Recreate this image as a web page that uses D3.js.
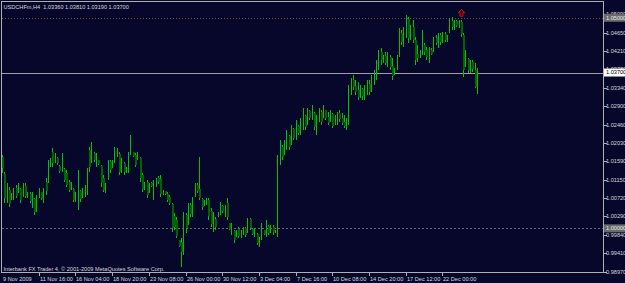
<!DOCTYPE html>
<html><head><meta charset="utf-8">
<script src="https://cdn.jsdelivr.net/npm/d3@7"></script>
<style>html,body{margin:0;padding:0;background:#07072b;overflow:hidden}</style>
</head><body>
<script>
const symbolTitle = "USDCHFm,H4";
const headerOHLC = ["1.03360", "1.03810", "1.03190", "1.03700"];

const opens = [
1.0169,1.0129,1.0067,1.0091,1.0070,1.0074,1.0096,1.0086,1.0093,1.0077,
1.0101,1.0074,1.0082,1.0058,1.0070,1.0044,1.0074,1.0086,1.0067,1.0110,
1.0110,1.0150,1.0181,1.0158,1.0167,1.0148,1.0139,1.0141,1.0131,1.0110,
1.0093,1.0093,1.0067,1.0067,1.0089,1.0074,1.0084,1.0096,1.0186,1.0160,
1.0179,1.0150,1.0162,1.0148,1.0120,1.0086,1.0120,1.0160,1.0146,1.0160,
1.0172,1.0177,1.0136,1.0155,1.0134,1.0139,1.0179,1.0181,1.0174,1.0165,
1.0167,1.0127,1.0093,1.0110,1.0086,1.0108,1.0079,1.0103,1.0120,1.0117,
1.0082,1.0089,1.0082,1.0074,1.0058,1.0029,1.0020,0.9972,0.9968,0.9949,
1.0032,1.0015,1.0055,1.0034,1.0077,1.0103,1.0093,1.0070,1.0055,1.0058,
1.0067,1.0041,1.0001,1.0022,1.0029,1.0036,1.0053,1.0034,1.0060,1.0013,
0.9991,0.9994,0.9982,0.9998,0.9979,0.9987,1.0001,0.9991,1.0022,0.9998,
0.9982,0.9987,0.9960,0.9977,0.9996,0.9987,1.0006,0.9991,1.0003,0.9989,
0.9991,1.0162,1.0193,1.0177,1.0198,1.0219,1.0200,1.0236,1.0217,1.0243,
1.0229,1.0248,1.0267,1.0250,1.0279,1.0262,1.0274,1.0234,1.0257,1.0276,
1.0264,1.0281,1.0264,1.0255,1.0272,1.0248,1.0250,1.0274,1.0262,1.0253,
1.0238,1.0255,1.0324,1.0352,1.0338,1.0329,1.0312,1.0331,1.0312,1.0329,
1.0343,1.0329,1.0352,1.0367,1.0388,1.0419,1.0397,1.0409,1.0390,1.0407,
1.0386,1.0367,1.0376,1.0407,1.0464,1.0440,1.0464,1.0497,1.0452,1.0478,
1.0447,1.0414,1.0407,1.0416,1.0435,1.0424,1.0400,1.0424,1.0424,1.0452,
1.0435,1.0459,1.0445,1.0462,1.0445,1.0466,1.0493,1.0476,1.0493,1.0478,
1.0490,1.0459,1.0386,1.0402,1.0374,1.0395,1.0376,1.0336];

const highs = [
1.0174,1.0134,1.0108,1.0098,1.0084,1.0096,1.0103,1.0108,1.0096,1.0108,
1.0108,1.0086,1.0086,1.0086,1.0072,1.0079,1.0096,1.0086,1.0096,1.0120,
1.0162,1.0167,1.0191,1.0179,1.0169,1.0150,1.0179,1.0143,1.0139,1.0115,
1.0110,1.0096,1.0086,1.0139,1.0091,1.0096,1.0103,1.0143,1.0193,1.0205,
1.0181,1.0179,1.0162,1.0150,1.0127,1.0108,1.0162,1.0162,1.0162,1.0193,
1.0191,1.0181,1.0167,1.0158,1.0146,1.0181,1.0222,1.0181,1.0179,1.0181,
1.0169,1.0131,1.0110,1.0115,1.0108,1.0110,1.0115,1.0120,1.0124,1.0127,
1.0091,1.0089,1.0086,1.0079,1.0060,1.0036,1.0027,0.9972,0.9977,1.0039,
1.0036,1.0060,1.0060,1.0074,1.0108,1.0108,1.0169,1.0072,1.0067,1.0072,
1.0072,1.0048,1.0039,1.0027,1.0039,1.0062,1.0055,1.0055,1.0072,1.0013,
1.0013,0.9996,0.9996,1.0003,0.9996,1.0003,1.0003,1.0024,1.0024,1.0001,
1.0001,0.9989,0.9979,1.0013,0.9996,1.0020,1.0008,1.0008,1.0008,0.9996,
1.0174,1.0210,1.0198,1.0210,1.0234,1.0222,1.0246,1.0238,1.0257,1.0246,
1.0262,1.0286,1.0269,1.0286,1.0281,1.0293,1.0276,1.0269,1.0286,1.0281,
1.0293,1.0281,1.0276,1.0281,1.0274,1.0269,1.0276,1.0281,1.0274,1.0269,
1.0262,1.0340,1.0357,1.0364,1.0352,1.0348,1.0340,1.0333,1.0340,1.0352,
1.0352,1.0364,1.0376,1.0400,1.0424,1.0428,1.0412,1.0419,1.0419,1.0412,
1.0405,1.0381,1.0412,1.0476,1.0471,1.0478,1.0507,1.0502,1.0483,1.0495,
1.0454,1.0435,1.0424,1.0471,1.0440,1.0431,1.0431,1.0428,1.0454,1.0459,
1.0464,1.0464,1.0466,1.0466,1.0459,1.0500,1.0502,1.0495,1.0495,1.0495,
1.0495,1.0464,1.0424,1.0405,1.0400,1.0400,1.0393,1.0381];

const lows = [
1.0131,1.0060,1.0060,1.0051,1.0067,1.0067,1.0072,1.0084,1.0060,1.0074,
1.0072,1.0072,1.0060,1.0048,1.0032,1.0039,1.0072,1.0067,1.0060,1.0079,
1.0108,1.0146,1.0146,1.0155,1.0150,1.0131,1.0134,1.0110,1.0098,1.0086,
1.0091,1.0062,1.0062,1.0044,1.0062,1.0072,1.0074,1.0079,1.0134,1.0155,
1.0158,1.0146,1.0150,1.0098,1.0086,1.0084,1.0115,1.0131,1.0143,1.0155,
1.0169,1.0127,1.0131,1.0127,1.0131,1.0131,1.0174,1.0169,1.0146,1.0162,
1.0110,1.0086,1.0091,1.0072,1.0084,1.0098,1.0067,1.0098,1.0105,1.0074,
1.0079,1.0079,1.0062,1.0055,0.9991,0.9996,0.9977,0.9956,0.9908,0.9937,
0.9989,1.0008,1.0027,1.0027,1.0074,1.0084,1.0067,1.0044,1.0053,1.0055,
1.0020,1.0003,0.9991,0.9996,1.0027,1.0032,1.0036,1.0027,1.0020,0.9996,
0.9984,0.9965,0.9979,0.9977,0.9977,0.9984,0.9979,0.9989,0.9996,0.9984,
0.9979,0.9960,0.9956,0.9972,0.9984,0.9979,0.9984,0.9989,0.9984,0.9989,
0.9979,1.0150,1.0162,1.0174,1.0186,1.0186,1.0198,1.0210,1.0210,1.0222,
1.0222,1.0234,1.0234,1.0246,1.0257,1.0257,1.0234,1.0222,1.0253,1.0246,
1.0262,1.0257,1.0246,1.0253,1.0238,1.0246,1.0246,1.0253,1.0246,1.0238,
1.0234,1.0246,1.0317,1.0329,1.0317,1.0305,1.0310,1.0305,1.0305,1.0317,
1.0317,1.0324,1.0340,1.0352,1.0376,1.0388,1.0393,1.0388,1.0383,1.0376,
1.0352,1.0364,1.0376,1.0407,1.0435,1.0431,1.0452,1.0440,1.0447,1.0440,
1.0388,1.0395,1.0405,1.0412,1.0412,1.0400,1.0393,1.0412,1.0419,1.0435,
1.0428,1.0435,1.0440,1.0443,1.0443,1.0464,1.0471,1.0471,1.0478,1.0476,
1.0454,1.0359,1.0383,1.0369,1.0369,1.0371,1.0333,1.0319];

const closes = [
1.0143,1.0072,1.0096,1.0058,1.0079,1.0091,1.0077,1.0103,1.0067,1.0101,
1.0077,1.0084,1.0065,1.0079,1.0039,1.0072,1.0091,1.0072,1.0091,1.0089,
1.0155,1.0165,1.0155,1.0174,1.0155,1.0136,1.0172,1.0115,1.0103,1.0091,
1.0105,1.0067,1.0082,1.0086,1.0070,1.0091,1.0098,1.0134,1.0146,1.0193,
1.0162,1.0172,1.0153,1.0108,1.0091,1.0103,1.0155,1.0139,1.0160,1.0186,
1.0186,1.0134,1.0160,1.0134,1.0143,1.0174,1.0215,1.0172,1.0150,1.0177,
1.0120,1.0093,1.0105,1.0079,1.0101,1.0101,1.0105,1.0115,1.0110,1.0082,
1.0089,1.0082,1.0067,1.0060,1.0001,1.0003,0.9982,0.9958,0.9944,1.0032,
1.0001,1.0051,1.0034,1.0067,1.0101,1.0089,1.0072,1.0051,1.0062,1.0067,
1.0029,1.0010,1.0020,1.0003,1.0036,1.0055,1.0041,1.0051,1.0027,0.9998,
1.0006,0.9972,0.9991,0.9982,0.9991,0.9998,0.9984,1.0017,1.0001,0.9987,
0.9994,0.9965,0.9972,1.0006,0.9987,1.0010,0.9989,1.0001,0.9991,0.9994,
1.0162,1.0191,1.0169,1.0203,1.0222,1.0193,1.0238,1.0215,1.0248,1.0226,
1.0255,1.0276,1.0241,1.0279,1.0262,1.0286,1.0241,1.0260,1.0279,1.0253,
1.0286,1.0262,1.0250,1.0274,1.0243,1.0264,1.0269,1.0260,1.0250,1.0243,
1.0257,1.0329,1.0348,1.0336,1.0324,1.0312,1.0329,1.0314,1.0333,1.0345,
1.0324,1.0357,1.0371,1.0393,1.0416,1.0400,1.0407,1.0393,1.0412,1.0383,
1.0362,1.0376,1.0405,1.0466,1.0443,1.0471,1.0500,1.0452,1.0476,1.0447,
1.0400,1.0405,1.0416,1.0459,1.0419,1.0407,1.0424,1.0414,1.0447,1.0440,
1.0457,1.0443,1.0459,1.0447,1.0457,1.0490,1.0478,1.0490,1.0481,1.0490,
1.0462,1.0376,1.0412,1.0376,1.0393,1.0378,1.0336,1.0370];

const priceTicks = [1.05090, 1.04650, 1.04210, 1.03780, 1.03340, 1.02900, 1.02460,
  1.02030, 1.01590, 1.01150, 1.00720, 1.00290, 0.99840, 0.99410, 0.98970];
const timeLabels = ["9 Nov 2009", "11 Nov 16:00", "16 Nov 04:00", "18 Nov 20:00", "23 Nov 08:00",
  "26 Nov 00:00", "30 Nov 12:00", "3 Dec 04:00", "7 Dec 16:00", "10 Dec 08:00",
  "14 Dec 20:00", "17 Dec 12:00", "22 Dec 00:00"];
const timeLabelBars = [0, 16, 32, 48, 64, 80, 96, 112, 128, 144, 160, 176, 192];
const levelLines = [1.05000, 1.00000];
const levelColors = ["#6f5a26", "#666670"];
const lastPrice = 1.03700;
const arrowBar = 200;
const arrowPrice = 1.0512;
const copyright = "Interbank FX Trader 4, \u00A9 2001-2009 MetaQuotes Software Corp.";

const W = 625, H = 283;
const FONT = "'Liberation Sans', Arial, sans-serif";
const FS = 5.6;
const BG = "#07072b";
const GRID = "#b0b0b0";
const TXT = "#d8d8d8";
const UP = "#00c400";
const DOWN = "#006400";

const svg = d3.select("body").append("svg")
  .attr("width", W).attr("height", H)
  .style("display", "block")
  .attr("font-family", FONT);

svg.append("rect").attr("width", W).attr("height", H).attr("fill", BG);

const plotL = 1.5, plotR = 603.5, plotT = 1.5, plotB = 272.5;

const y = d3.scaleLinear().domain([0.98970, 1.05090]).range([271.7, 14]);
const x = d3.scaleLinear().domain([0, opens.length - 1]).range([2, 476.9]);

const bars = opens.map((o, i) => ({i, o, h: highs[i], l: lows[i], c: closes[i]}));

svg.append("clipPath").attr("id", "clip").append("rect")
  .attr("x", plotL).attr("y", plotT).attr("width", plotR - plotL).attr("height", plotB - plotT);

const g = svg.append("g").attr("clip-path", "url(#clip)");

// level lines
levelLines.forEach((lv, k) => {
  const yy = Math.round(y(lv)) + 0.5;
  g.append("line").attr("x1", plotL).attr("x2", plotR).attr("y1", yy).attr("y2", yy)
    .attr("stroke", levelColors[k]).attr("stroke-width", 1)
    .attr("stroke-dasharray", k === 0 ? "1,2" : "2,2")
    .attr("shape-rendering", "crispEdges");
});

// current price line
{
  const yy = Math.round(y(lastPrice)) + 0.5;
  g.append("line").attr("x1", plotL).attr("x2", plotR).attr("y1", yy).attr("y2", yy)
    .attr("stroke", "#a0a0a8").attr("stroke-width", 1).attr("shape-rendering", "crispEdges");
}

// bars
const bg = g.append("g");
bg.selectAll("line.wick").data(bars).join("line")
  .attr("class", "wick")
  .attr("x1", d => Math.round(x(d.i)) + 0.5).attr("x2", d => Math.round(x(d.i)) + 0.5)
  .attr("y1", d => y(d.h)).attr("y2", d => y(d.l))
  .attr("stroke", UP).attr("stroke-width", 1).attr("shape-rendering", "crispEdges");

bg.selectAll("rect.body").data(bars.filter(d => d.c < d.o)).join("rect")
  .attr("class", "body")
  .attr("x", d => Math.round(x(d.i)))
  .attr("width", 2)
  .attr("y", d => y(d.o))
  .attr("height", d => Math.max(1, y(d.c) - y(d.o)))
  .attr("fill", DOWN).attr("shape-rendering", "crispEdges");

// red arrow marker
{
  const ax = Math.round(x(arrowBar)) + 0.5, ay = y(arrowPrice);
  const p = `M${ax - 1.5},${ay + 3.5} V${ay} H${ax - 3.2} L${ax},${ay - 3.5} L${ax + 3.2},${ay} H${ax + 1.5} V${ay + 3.5} Z`;
  svg.append("path").attr("d", p).attr("fill", "#5a0000").attr("stroke", "#d01818").attr("stroke-width", 0.9);
}

// frame
svg.append("rect").attr("x", plotL).attr("y", plotT).attr("width", plotR - plotL).attr("height", plotB - plotT)
  .attr("fill", "none").attr("stroke", GRID).attr("stroke-width", 1).attr("shape-rendering", "crispEdges");

// price axis
const pa = svg.append("g");
priceTicks.forEach(t => {
  const yy = Math.round(y(t)) + 0.5;
  pa.append("line").attr("x1", plotR).attr("x2", plotR + 3).attr("y1", yy).attr("y2", yy)
    .attr("stroke", GRID).attr("shape-rendering", "crispEdges");
  pa.append("text").attr("x", 606).attr("y", yy).attr("dy", "0.35em")
    .attr("font-size", FS).attr("fill", TXT).text(d3.format(".5f")(t));
});

// level labels
levelLines.forEach(lv => {
  const yy = y(lv);
  pa.append("rect").attr("x", plotR + 0.5).attr("y", yy - 4).attr("width", W - plotR).attr("height", 8)
    .attr("fill", "#6a6a6a");
  pa.append("text").attr("x", 606).attr("y", yy).attr("dy", "0.35em")
    .attr("font-size", FS).attr("fill", "#e8e8e8").text(d3.format(".5f")(lv));
});

// last price label
{
  const yy = y(lastPrice);
  pa.append("rect").attr("x", plotR + 0.5).attr("y", yy - 4).attr("width", W - plotR).attr("height", 8)
    .attr("fill", "#ffffff");
  pa.append("text").attr("x", 606).attr("y", yy).attr("dy", "0.35em")
    .attr("font-size", FS).attr("fill", "#000000").text(d3.format(".5f")(lastPrice));
}

// time axis
const ta = svg.append("g");
timeLabelBars.forEach((b, k) => {
  const xx = Math.round(x(b)) + 0.5;
  if (k > 0) {
    ta.append("line").attr("x1", xx).attr("x2", xx).attr("y1", plotB).attr("y2", plotB + 3)
      .attr("stroke", GRID).attr("shape-rendering", "crispEdges");
  }
  ta.append("text").attr("x", xx + 0.5).attr("y", 281)
    .attr("font-size", FS).attr("fill", TXT).text(timeLabels[k]);
});

// header
svg.append("text").attr("x", 3.5).attr("y", 9)
  .attr("font-size", FS).attr("fill", TXT)
  .attr("xml:space", "preserve")
  .text(symbolTitle + "  " + headerOHLC.join(" "));

// copyright
svg.append("text").attr("x", 3.5).attr("y", 270.5)
  .attr("font-size", FS).attr("fill", TXT).text(copyright);
</script>
</body></html>
